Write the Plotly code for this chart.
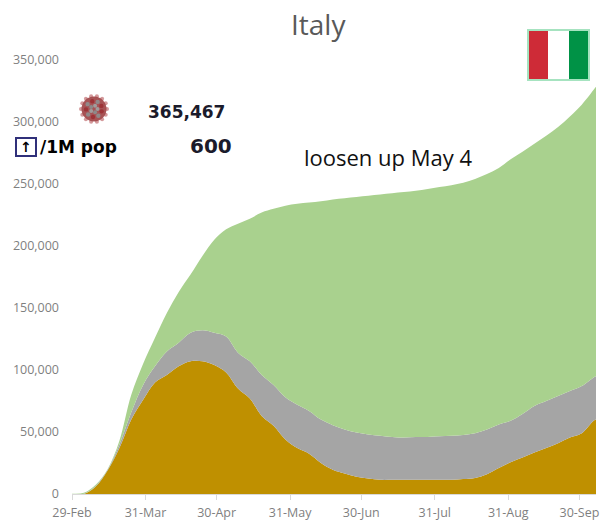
import math
import pandas as pd
import plotly.graph_objects as go

dates = list(pd.date_range("2020-02-29", periods=45, freq="5D").strftime("%Y-%m-%d")) + ["2020-10-07"]

active = [0, 100, 6000, 19000, 37000, 60000, 76000, 90000, 96000, 103000, 107000, 107000, 104000, 98000, 85000, 77000,
          63000, 55000, 44000, 37000, 32500, 25000, 19500, 16500, 14000, 12500, 11400, 11400, 11400, 11400, 11400,
          11400, 11500, 12000, 13000, 16000, 21000, 25700, 29500, 33500, 37000, 41000, 45500, 49000, 59000, 60000]
deaths = [0, 100, 500, 500, 3000, 6000, 12000, 13000, 19000, 19000, 23000, 25000, 26000, 29000, 29000, 30000,
          33000, 33000, 34000, 35000, 34500, 35000, 36000, 35500, 35500, 35500, 35600, 34600, 34100, 34600, 34600,
          35100, 35500, 35500, 36000, 36000, 35000, 33300, 35000, 37500, 38000, 38000, 37500, 38000, 35000, 35000]
recovered = [300, 800, 1000, 500, 3000, 14000, 17000, 23000, 31000, 41000, 47000, 60000, 75000, 86500, 104000, 115000,
             131000, 142000, 154500, 162000, 168000, 176000, 182000, 186500, 190000, 192500, 194500, 196500, 198000,
             198500, 200000, 201000, 202000, 203500, 205000, 206000, 207000, 211000, 211500, 211500, 214000, 217000,
             221500, 227000, 232000, 233500]

tick_dates = ["2020-02-29", "2020-03-31", "2020-04-30", "2020-05-31", "2020-06-30", "2020-07-31", "2020-08-31", "2020-09-30"]
tick_labels = ["29-Feb", "31-Mar", "30-Apr", "31-May", "30-Jun", "31-Jul", "31-Aug", "30-Sep"]
y_ticks = [0, 50000, 100000, 150000, 200000, 250000, 300000, 350000]

W, H = 600, 520
L, R, T, B = 72, 596, 60, 494
px = lambda x: (x - L) / (R - L)
py = lambda y: (B - y) / (B - T)

fig = go.Figure()
for name, vals, col in [("Active", active, "#BF9000"), ("Deaths", deaths, "#A5A5A5"), ("Recovered", recovered, "#A9D18E")]:
    fig.add_trace(go.Scatter(x=dates, y=vals, name=name, mode="none", stackgroup="one", fillcolor=col,
                             line=dict(width=0), line_shape="spline"))

def rect(x0, y0, x1, y1, fill, line=None, lw=0):
    return dict(type="rect", xref="paper", yref="paper", x0=px(x0), x1=px(x1), y0=py(y0), y1=py(y1),
                fillcolor=fill, line=dict(color=line or fill, width=lw), layer="above")

def circ(cx, cy, r, fill, op=1.0):
    return dict(type="circle", xref="paper", yref="paper", x0=px(cx - r), x1=px(cx + r), y0=py(cy + r), y1=py(cy - r),
                fillcolor=fill, opacity=op, line=dict(width=0), layer="above")

shapes = [
    rect(528, 30, 589, 80, "#FFFFFF", "#A6E3C0", 2),
    rect(529, 31, 548, 79, "#CE2B37"),
    rect(569, 31, 588, 79, "#009246"),
    rect(16, 138, 36, 156, "#FFFFFF", "#30307A", 2),
]
# virus icon
for k in range(14):
    a = 2 * math.pi * k / 14
    shapes.append(circ(94 + 13 * math.cos(a), 109 + 13 * math.sin(a), 2.0, "#B0474A", 0.55))
shapes.append(circ(94, 109, 12.5, "#A24A4C", 0.95))
for k in range(9):
    a = 2 * math.pi * k / 9 + 0.3
    shapes.append(circ(94 + 8 * math.cos(a), 109 + 8 * math.sin(a), 2.2, "#8F8F8F" if k % 2 else "#9C3034", 0.9))
for k in range(5):
    a = 2 * math.pi * k / 5
    shapes.append(circ(94 + 3.5 * math.cos(a), 109 + 3.5 * math.sin(a), 2.0, "#8C8C8C" if k % 2 else "#A0A0A0", 0.95))

def note(x, y, text, size, color="#111111", family="DejaVu Sans", anchor="left", bold=False):
    return dict(xref="paper", yref="paper", x=px(x), y=py(y), text=f"<b>{text}</b>" if bold else text, showarrow=False,
                xanchor=anchor, yanchor="middle", font=dict(size=size, color=color, family=family), align="left")

annotations = [
    note(318, 24, "Italy", 28, "#595959", "Open Sans", "center"),
    note(302, 157, "loosen up May 4", 22, "#111111", "Open Sans"),
    note(146, 112, "365,467", 17, "#1B1B2B", bold=True),
    note(188, 146, "600", 20, "#1B1B2B", bold=True),
    note(38, 147, "/1M pop", 17, "#000000", bold=True),
    note(26, 147, "↑", 14, "#000000", anchor="center", bold=True),
]

fig.update_layout(
    width=W, height=H, margin=dict(l=L, r=W - R, t=T, b=H - B, pad=0), autosize=False,
    paper_bgcolor="#FFFFFF", plot_bgcolor="#FFFFFF", showlegend=False, shapes=shapes, annotations=annotations,
    font=dict(family="Open Sans", color="#7F7F7F", size=12),
    xaxis=dict(type="date", range=["2020-02-29", "2020-10-07"], tickvals=tick_dates, ticktext=tick_labels,
               ticks="outside", ticklen=5, tickcolor="#D9D9D9", showline=True, linecolor="#D9D9D9", linewidth=1,
               showgrid=False, zeroline=False, tickangle=0, ticklabelstandoff=2, automargin=False,
               tickfont=dict(size=12.5, color="#7F7F7F")),
    yaxis=dict(range=[0, 350000], tickvals=y_ticks, tickformat=",d", showgrid=False, zeroline=False, showline=False,
               ticks="", ticklen=0, ticklabelstandoff=12, automargin=False, tickfont=dict(size=12.5, color="#7F7F7F")),
)
fig.write_html("out.html", config={"displayModeBar": False}, post_script="document.body.style.margin='0';")
